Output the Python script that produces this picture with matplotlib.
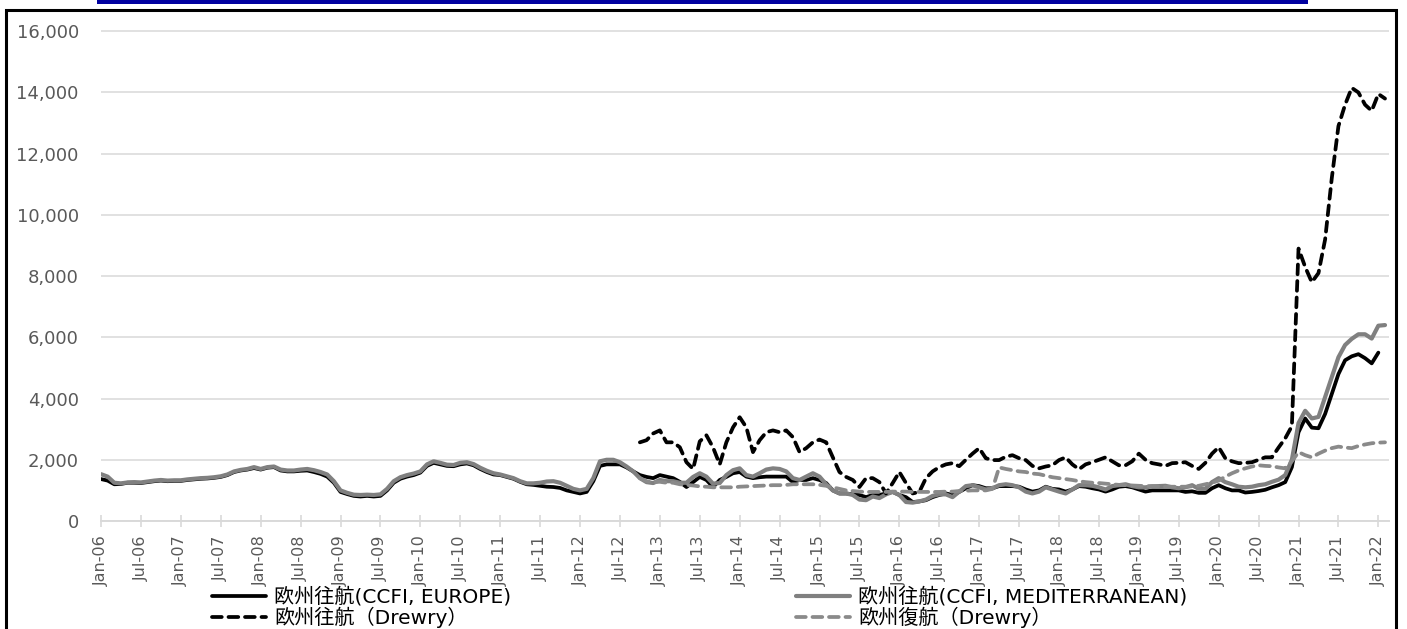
import matplotlib
matplotlib.use("Agg")
import matplotlib.pyplot as plt
from matplotlib.patches import Rectangle
from matplotlib.font_manager import FontProperties
from matplotlib.ticker import FuncFormatter

# ---------------- data (month index 0 = Jan-06) ----------------
europe_ccfi = [
    1370, 1320, 1200, 1210, 1250, 1250, 1240, 1270, 1300, 1320, 1300, 1310,
    1310, 1340, 1360, 1380, 1390, 1410, 1440, 1500, 1600, 1650, 1680, 1730,
    1680, 1740, 1760, 1650, 1620, 1620, 1640, 1650, 1600, 1540, 1450, 1250,
    950, 880, 820, 800, 820, 800, 820, 1000, 1250, 1380, 1450, 1500,
    1580, 1800, 1900, 1850, 1800, 1790, 1850, 1880, 1820, 1700, 1600, 1520,
    1500, 1440, 1380, 1280, 1200, 1180, 1150, 1120, 1110, 1080, 1000, 950,
    900, 950, 1300, 1800, 1850, 1850, 1850, 1750, 1620,
    1500, 1440, 1400, 1500, 1450, 1400, 1280, 1110, 1270, 1440, 1340, 1110,
    1340, 1440, 1560, 1600, 1450, 1400, 1430, 1450, 1450, 1450, 1450, 1270,
    1340, 1340, 1400, 1340, 1240, 1000, 900, 900, 870, 850, 780, 850,
    850, 900, 950, 850, 780, 620, 640, 680, 780, 850, 900, 850,
    950, 1070, 1170, 1140, 1070, 1070, 1140, 1140, 1140, 1120, 1030, 960,
    1000, 1120, 1050, 1030, 960, 1030, 1140, 1120, 1070, 1030, 960, 1030,
    1120, 1140, 1100, 1030, 960, 1000, 1000, 1000, 1000, 1000, 950, 970,
    920, 920, 1070, 1170, 1070, 1000, 1000, 930, 950, 980, 1020, 1100,
    1170, 1270, 1760, 2900, 3350, 3050, 3030, 3500, 4150, 4800, 5250, 5380,
    5450, 5320, 5150, 5500,
]

med_ccfi = [
    1530, 1450, 1250, 1230, 1260, 1270, 1260, 1290, 1320, 1340, 1320, 1330,
    1330, 1360, 1380, 1400, 1410, 1430, 1460, 1520, 1620, 1670, 1700, 1760,
    1700, 1760, 1780, 1680, 1650, 1650, 1680, 1700, 1660, 1600, 1520, 1300,
    1000, 920, 860, 850, 860, 850, 870, 1050, 1300, 1430, 1500, 1550,
    1620, 1850, 1950, 1900, 1840, 1830, 1900, 1920, 1860, 1740, 1640, 1560,
    1520, 1460, 1400, 1300, 1230, 1230, 1250, 1290, 1300, 1250, 1150, 1050,
    1000, 1050, 1400, 1950, 2000, 2000, 1920, 1780, 1620,
    1400, 1270, 1240, 1340, 1300, 1300, 1250, 1250, 1440, 1560, 1450, 1220,
    1240, 1500, 1660, 1720, 1500, 1450, 1560, 1680, 1720, 1700, 1620, 1400,
    1340, 1450, 1560, 1450, 1200, 1000, 900, 900, 850, 700, 680, 800,
    750, 870, 950, 850, 620, 600, 640, 700, 820, 870, 870, 780,
    960, 1140, 1170, 1100, 1030, 1070, 1170, 1200, 1170, 1100, 960, 900,
    960, 1100, 1030, 960, 900, 1030, 1170, 1170, 1150, 1100, 1030, 1140,
    1170, 1200, 1140, 1100, 1100, 1130, 1140, 1150, 1100, 1070, 1100, 1170,
    1050, 1050, 1270, 1400, 1270, 1200, 1120, 1100, 1120, 1170, 1200, 1280,
    1350, 1500, 2000, 3200, 3600, 3350, 3400, 4050, 4700, 5350, 5750, 5950,
    6100, 6100, 5960, 6380, 6400,
]

drewry_start = 81  # Oct-12
drewry_out = [
    2570, 2640, 2860, 2960, 2570, 2570, 2410, 1920, 1700, 2600, 2800, 2400,
    1850, 2570, 3060, 3390, 3060, 2250, 2640, 2900, 2960, 2900, 2960, 2740,
    2250, 2380, 2570, 2660, 2570, 2080, 1600, 1440, 1340, 1110, 1400, 1400,
    1270, 900, 1240, 1600, 1240, 900, 950, 1400, 1620, 1760, 1850, 1890,
    1790, 2000, 2200, 2380, 2050, 1990, 1990, 2100, 2150, 2050, 1990, 1800,
    1720, 1780, 1820, 1990, 2080, 1850, 1690, 1850, 1920, 2000, 2080, 1950,
    1820, 1820, 1950, 2200, 2000, 1890, 1850, 1800, 1890, 1900, 1920, 1800,
    1700, 1900, 2200, 2410, 2050, 1950, 1890, 1900, 1920, 2000, 2080, 2080,
    2400, 2700, 3100, 8900, 8300, 7800, 8100, 9200, 11200, 12900, 13600, 14150,
    14000, 13600, 13400, 13950, 13800,
]
drewry_ret = [
    1400, 1300, 1270, 1280, 1250, 1250, 1200, 1180, 1160, 1130, 1120, 1100,
    1100, 1100, 1100, 1120, 1130, 1140, 1150, 1160, 1170, 1170, 1180, 1200,
    1200, 1200, 1200, 1180, 1150, 1100, 1050, 1000, 980, 960, 950, 950,
    950, 950, 960, 960, 960, 950, 950, 950, 950, 950, 960, 960,
    980, 990, 1000, 1000, 1000, 1050, 1750, 1700, 1660, 1620, 1600, 1550,
    1530, 1480, 1430, 1400, 1370, 1340, 1300, 1270, 1250, 1240, 1220, 1200,
    1180, 1170, 1160, 1150, 1140, 1140, 1130, 1120, 1120, 1120, 1120, 1130,
    1150, 1200, 1250, 1320, 1450, 1560, 1650, 1720, 1780, 1820, 1800, 1790,
    1750, 1720, 1950, 2250, 2150, 2080, 2200, 2300, 2380, 2430, 2400, 2380,
    2450, 2500, 2540, 2560, 2570,
]

tick_labels = [
    "Jan-06", "Jul-06", "Jan-07", "Jul-07", "Jan-08", "Jul-08", "Jan-09", "Jul-09",
    "Jan-10", "Jul-10", "Jan-11", "Jul-11", "Jan-12", "Jul-12", "Jan-13", "Jul-13",
    "Jan-14", "Jul-14", "Jan-15", "Jul-15", "Jan-16", "Jul-16", "Jan-17", "Jul-17",
    "Jan-18", "Jul-18", "Jan-19", "Jul-19", "Jan-20", "Jul-20", "Jan-21", "Jul-21",
    "Jan-22",
]

series_names = [
    "欧州往航(CCFI, EUROPE)",
    "欧州往航(CCFI, MEDITERRANEAN)",
    "欧州往航（Drewry）",
    "欧州復航（Drewry）",
]

# ---------------- figure ----------------
W, H = 1407, 629
fig = plt.figure(figsize=(W / 100, H / 100), dpi=100)
fig.patch.set_facecolor("white")

ax = fig.add_axes([101 / W, 1 - 521 / H, (1389 - 101) / W, (521 - 30) / H])

x_eu = list(range(len(europe_ccfi)))
x_med = list(range(len(med_ccfi)))
x_dr = [drewry_start + i for i in range(len(drewry_out))]
x_dr2 = [drewry_start + i for i in range(len(drewry_ret))]

grey = "#808080"
l1, = ax.plot(x_eu, europe_ccfi, color="black", lw=2.7, solid_joinstyle="round",
              solid_capstyle="round", zorder=3)
l2, = ax.plot(x_med, med_ccfi, color=grey, lw=3.0, solid_joinstyle="round",
              solid_capstyle="round", zorder=4)
l3, = ax.plot(x_dr, drewry_out, color="black", lw=2.7, ls=(0, (2.6, 1.8)),
              dash_capstyle="round", dash_joinstyle="round", zorder=5)
l4, = ax.plot(x_dr2, drewry_ret, color="#8a8a8a", lw=2.7, ls=(0, (2.6, 1.8)),
              dash_capstyle="round", dash_joinstyle="round", zorder=6)

ax.set_xlim(0, 193.6)
ax.set_ylim(0, 16040)
ax.set_yticks(range(0, 16001, 2000))
ax.yaxis.set_major_formatter(FuncFormatter(lambda v, p: f"{int(v):,}"))
ax.set_xticks(list(range(0, 193, 6)))
ax.set_xticklabels(tick_labels, rotation=90)

ax.grid(axis="y", color="#D9D9D9", lw=1.1)
ax.set_axisbelow(True)
for s in ["top", "right", "left"]:
    ax.spines[s].set_visible(False)
ax.spines["bottom"].set_color("#D9D9D9")
ax.spines["bottom"].set_linewidth(1.4)

ax.tick_params(axis="y", length=0, pad=16, labelsize=13, labelcolor="#595959")
ax.tick_params(axis="x", direction="inout", length=8.6, width=1.2, color="#D9D9D9",
               pad=6, labelsize=11.5, labelcolor="#595959")

# legends
lp = FontProperties(family=["DejaVu Sans", "Noto Sans CJK JP"], size=14.5)
common = dict(frameon=False, prop=lp, handlelength=2.7, handletextpad=0.4,
              labelspacing=0.0, borderpad=0, borderaxespad=0, loc="upper left")
fig.legend([l1, l3], [series_names[0], series_names[2]],
           bbox_to_anchor=(212 / W, 1 - 587 / H), **common)
fig.legend([l2, l4], [series_names[1], series_names[3]],
           bbox_to_anchor=(796 / W, 1 - 587 / H), **common)

# frame and top bar
fig.patches.append(Rectangle((6 / W, -0.05), (1396 - 6) / W, 0.05 + 1 - 10 / H,
                             transform=fig.transFigure, fill=False,
                             edgecolor="black", lw=2.2, zorder=10))
fig.patches.append(Rectangle((97 / W, 1 - 3.5 / H), (1308 - 97) / W, 3.5 / H,
                             transform=fig.transFigure, facecolor="#0000A0",
                             edgecolor="none", zorder=10))

fig.savefig("out.png", dpi=100, facecolor="white")
